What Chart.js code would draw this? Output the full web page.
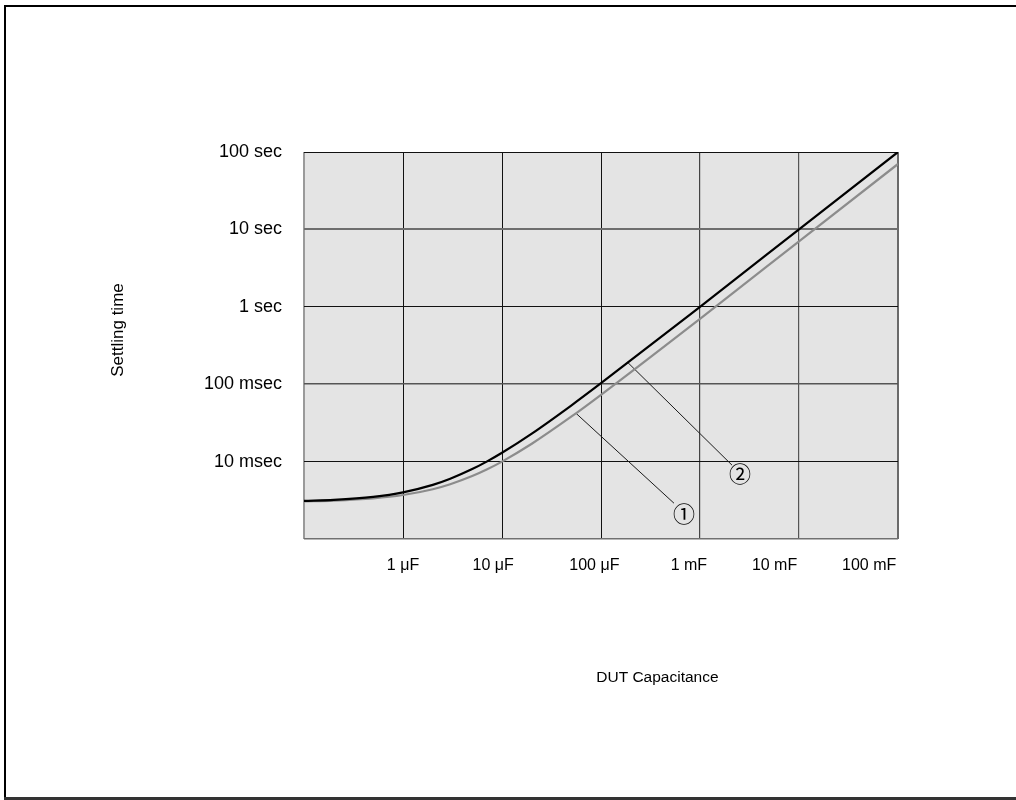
<!DOCTYPE html>
<html>
<head>
<meta charset="utf-8">
<script src="https://cdn.jsdelivr.net/npm/chart.js@4/dist/chart.umd.min.js"></script>
<style>
  html, body { margin: 0; padding: 0; background: #ffffff; }
  #wrap { width: 1016px; height: 800px; }
</style>
</head>
<body>
<div id="wrap"><canvas id="c" width="1016" height="800"></canvas></div>
<script>
// ---- data (capacitance in µF, settling time in seconds) ----
const capacitance = [0.1, 0.2, 0.5, 1, 2, 3, 5, 7, 10, 20, 50, 100, 1000, 10000, 100000];
const settlingCurve2 = [0.0031, 0.0032, 0.0035, 0.0040, 0.0050, 0.0060, 0.0080, 0.0100, 0.013, 0.023, 0.053, 0.103, 1.0, 10, 100];
const settlingCurve1 = [0.00307, 0.00314, 0.00335, 0.0037, 0.0044, 0.0051, 0.0065, 0.0079, 0.0100, 0.017, 0.038, 0.073, 0.70, 7.0, 70];

const xTickValues = [0.1, 1, 10, 100, 1000, 10000, 100000];
const xTickLabels = ['', '1 μF', '10 μF', '100 μF', '1 mF', '10 mF', '100 mF'];
const yTickValues = [0.001, 0.01, 0.1, 1, 10, 100];
const yTickLabels = ['', '10 msec', '100 msec', '1 sec', '10 sec', '100 sec'];

// callout leaders: [x µF, t s] start on curve -> end near marker
const leader1 = [[56, 0.042], [546, 0.0029]];
const leader2 = [[187, 0.19], [2105, 0.0090]];
const markerLabels = ['①', '②'];
const markerPos = [[689, 0.0021], [2535, 0.0069]];

const xTitle = 'DUT Capacitance';
const yTitle = 'Settling time';

// ---- styling ----
const xLabelPad = [0, 0, 4, 3, 5, 11, 13];
const hGridColors = ['#707070', '#111111', '#555555', '#111111', '#6e6e6e', '#111111'];
const hGridWidths = [1.5, 1, 1.5, 1, 2, 1];
const vGridColors = ['#9a9a9a', '#111111', '#111111', '#111111', '#444444', '#555555', '#6a6a6a'];
const vGridWidths = [2, 1, 1, 1, 1.2, 1.2, 2];
const X_TICK_FONT = { family: '"Liberation Sans", Arial, sans-serif', size: 16 };
const Y_TICK_FONT = { family: '"Liberation Sans", Arial, sans-serif', size: 18 };

const toPts = (xs, ys) => xs.map((x, i) => ({ x: x, y: ys[i] }));

const decor = {
  id: 'decor',
  beforeDraw(chart) {
    const { ctx, chartArea: a } = chart;
    ctx.save();
    ctx.fillStyle = '#e4e4e4';
    ctx.fillRect(a.left, a.top, a.right - a.left, a.bottom - a.top);
    ctx.restore();
  },
  afterDraw(chart) {
    const { ctx, chartArea: a, scales } = chart;
    ctx.save();
    // outer frame
    ctx.fillStyle = '#000';
    ctx.fillRect(4, 5, 1012, 2);
    ctx.fillRect(4, 5, 2, 795);
    ctx.fillStyle = '#333';
    ctx.fillRect(4, 797, 1012, 3);
    // circled markers
    ctx.fillStyle = '#000';
    ctx.textAlign = 'center';
    ctx.textBaseline = 'middle';
    ctx.font = '22px "Noto Sans CJK JP", "DejaVu Sans", sans-serif';
    markerLabels.forEach((t, i) => {
      const px = scales.x.getPixelForValue(markerPos[i][0]);
      const py = scales.y.getPixelForValue(markerPos[i][1]);
      ctx.fillText(t, px, py);
    });
    // axis titles
    ctx.font = '15.5px "Liberation Sans", Arial, sans-serif';
    ctx.fillText(xTitle, a.left + (a.right - a.left) * 0.595, a.bottom + 139);
    ctx.font = '17px "Liberation Sans", Arial, sans-serif';
    ctx.translate(a.left - 186, a.top + (a.bottom - a.top) * 0.46);
    ctx.rotate(-Math.PI / 2);
    ctx.fillText(yTitle, 0, 0);
    ctx.restore();
  }
};

new Chart(document.getElementById('c'), {
  type: 'line',
  data: {
    datasets: [
      { label: '②', data: toPts(capacitance, settlingCurve2), borderColor: '#000000', borderWidth: 2.2, pointRadius: 0, cubicInterpolationMode: 'monotone' },
      { label: '①', data: toPts(capacitance, settlingCurve1), borderColor: '#8c8c8c', borderWidth: 2.2, pointRadius: 0, cubicInterpolationMode: 'monotone' },
      { label: 'leader1', data: leader1.map(p => ({ x: p[0], y: p[1] })), borderColor: '#1a1a1a', borderWidth: 1, pointRadius: 0 },
      { label: 'leader2', data: leader2.map(p => ({ x: p[0], y: p[1] })), borderColor: '#1a1a1a', borderWidth: 1, pointRadius: 0 }
    ]
  },
  options: {
    responsive: false,
    animation: false,
    events: [],
    layout: { padding: { left: 0, top: 152, right: 118, bottom: 0 } },
    plugins: { legend: { display: false }, tooltip: { enabled: false } },
    scales: {
      x: {
        type: 'logarithmic',
        min: 0.1, max: 100000,
        afterBuildTicks: s => { s.ticks = xTickValues.map(v => ({ value: v })); },
        afterFit: s => { s.height = 800 - 539; },
        border: { display: false },
        grid: {
          drawTicks: false,
          color: c => vGridColors[c.index] || '#111',
          lineWidth: c => vGridWidths[c.index] || 1
        },
        ticks: {
          autoSkip: false, maxRotation: 0, padding: 17,
          color: '#000', font: X_TICK_FONT,
          callback: (v, i) => xTickLabels[i] + ' '.repeat(xLabelPad[i] || 0)
        }
      },
      y: {
        type: 'logarithmic',
        min: 0.001, max: 100,
        afterBuildTicks: s => { s.ticks = yTickValues.map(v => ({ value: v })); },
        afterFit: s => { s.width = 304; },
        border: { display: false },
        grid: {
          drawTicks: false,
          color: c => hGridColors[c.index] || '#111',
          lineWidth: c => hGridWidths[c.index] || 1
        },
        ticks: {
          autoSkip: false, padding: 22,
          color: '#000', font: Y_TICK_FONT,
          callback: (v, i) => yTickLabels[i]
        }
      }
    }
  },
  plugins: [decor]
});
</script>
</body>
</html>
